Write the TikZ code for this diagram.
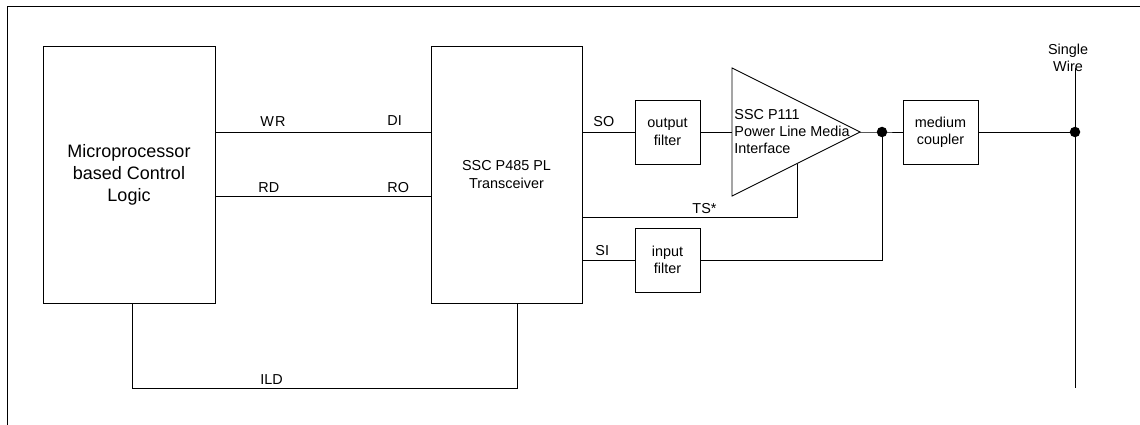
\documentclass[tikz,border=0pt]{standalone}
\usepackage{fontspec}
\setmainfont{Liberation Sans}
\begin{document}
\begin{tikzpicture}[x=1pt,y=-1pt,
  every path/.style={line width=0.9pt},
  box/.style={draw,line width=0.9pt,inner sep=0pt,align=center,font=\fontsize{14.4}{17.3}\selectfont},
  lbl/.style={inner sep=0pt,font=\fontsize{14.4}{17.3}\selectfont},
  dotc/.style={circle,fill=black,inner sep=0pt,minimum size=10.5pt}]
\useasboundingbox (0,0) rectangle (1140,425);
% frame
\draw (7,425) -- (7,6) -- (1140,6);
% boxes
\node[box,minimum width=172pt,minimum height=257pt,font=\fontsize{18}{22}\selectfont] (micro) at (129,174.5) {Microprocessor\\based Control\\Logic};
\node[box,minimum width=151pt,minimum height=257pt] (trans) at (506.5,174.5) {SSC P485 PL\\Transceiver};
\node[box,minimum width=65pt,minimum height=64pt] (ofilt) at (667.5,132) {output\\filter};
\node[box,minimum width=65pt,minimum height=64pt] (ifilt) at (667.5,260) {input\\filter};
\node[box,minimum width=75pt,minimum height=64pt] (coup) at (940.5,132) {medium\\coupler};
% triangle
\coordinate (tA) at (732,68);
\coordinate (tB) at (732,196);
\coordinate (tip) at (860,132);
\draw (tA) -- (tip) -- (tB) -- cycle;
\node[lbl,anchor=west,align=left] (pmi) at (734,131.5) {SSC P111\\Power Line Media\\Interface};
\coordinate (tsup) at (797,163.5);
% dots
\node[dotc] (j1) at (882,132) {};
\node[dotc] (j2) at (1075,132) {};
\coordinate (wtop) at (1075,68);
\coordinate (wbot) at (1075,388);
\node[lbl,align=center] (sw) at (1068,58) {Single\\Wire};
% helper rows
\coordinate (yWR) at (0,132);
\coordinate (yRD) at (0,196);
\coordinate (yTS) at (0,217);
\coordinate (ySI) at (0,260);
\coordinate (yILD) at (0,388);
\coordinate (xILDa) at (132,0);
\coordinate (xILDb) at (517,0);
% connectors
\draw (micro.east |- yWR) -- (trans.west |- yWR);
\draw (micro.east |- yRD) -- (trans.west |- yRD);
\draw (trans.east |- yWR) -- (ofilt.west);
\draw (ofilt.east) -- (tA |- ofilt.east);
\draw (trans.east |- yTS) -- (tsup |- yTS) -- (tsup);
\draw (trans.east |- ySI) -- (ifilt.west);
\draw (ifilt.east) -- (j1 |- ifilt.east) -- (j1.center);
\draw (tip) -- (j1.center) -- (coup.west);
\draw (coup.east) -- (j2.center);
\draw (wtop) -- (wbot);
\draw (xILDa |- micro.south) -- (xILDa |- yILD) -- (xILDb |- yILD) -- (xILDb |- trans.south);
% labels
\node[lbl,anchor=base west] (lWR) at (260,127) {W\kern1ptR};
\node[lbl,anchor=base west] (lDI) at (387,126) {DI};
\node[lbl,anchor=base west] (lRD) at (258,192) {RD};
\node[lbl,anchor=base west] (lRO) at (387,192) {RO};
\node[lbl,anchor=base west] (lILD) at (260,384) {ILD};
\node[lbl,anchor=base west] (lSO) at (593,127) {SO};
\node[lbl,anchor=base west] (lSI) at (595,255) {SI};
\node[lbl,anchor=base west] (lTS) at (692,213) {TS*};
\end{tikzpicture}
\end{document}
